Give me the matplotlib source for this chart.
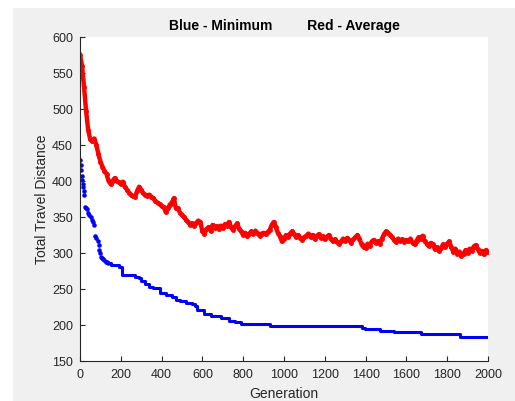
import matplotlib
matplotlib.use("Agg")
import matplotlib.pyplot as plt
from matplotlib.patches import Rectangle

# average distance, read every 10 generations (0..2000)
red_step = 10
red_avg = [
    575, 560, 530, 497, 471, 458, 455, 459, 450, 438,
    427, 420, 414, 410, 400, 396, 400, 404, 400, 398,
    396, 399, 392, 388, 384, 381, 379, 378, 386, 392,
    388, 383, 381, 379, 381, 378, 376, 372, 370, 368,
    365, 364, 357, 362, 367, 370, 376, 362, 362, 356,
    353, 350, 346, 343, 339, 341, 338, 342, 345, 343,
    330, 327, 333, 336, 331, 339, 335, 337, 333, 338,
    335, 340, 338, 343, 336, 332, 337, 341, 334, 330,
    325, 328, 323, 327, 330, 327, 331, 328, 324, 327,
    328, 326, 329, 332, 339, 343, 336, 328, 323, 316,
    320, 325, 322, 327, 330, 326, 322, 325, 321, 318,
    322, 324, 327, 322, 325, 320, 323, 326, 321, 323,
    319, 322, 325, 320, 316, 319, 315, 313, 316, 320,
    317, 321, 318, 314, 319, 322, 325, 320, 312, 308,
    307, 313, 310, 316, 318, 314, 316, 313, 320, 326,
    330, 328, 325, 322, 318, 315, 320, 317, 319, 315,
    318, 316, 320, 314, 312, 317, 322, 319, 324, 316,
    313, 310, 314, 312, 305, 308, 303, 307, 312, 309,
    313, 316, 308, 302, 306, 299, 302, 296, 299, 304,
    300, 306, 303, 309, 311, 305, 300, 303, 298, 304,
    301,
]
red_gen = list(range(0, red_step * len(red_avg), red_step))

# minimum distance: early scattered points
blue_early_gen = [0, 3, 5, 8, 10, 13, 16, 19, 21, 26, 30, 34, 40, 46, 52,
                  59, 64, 70, 75, 80, 87, 91, 95, 99, 103, 108, 113, 119,
                  125, 130, 136]
blue_early_val = [429, 422, 415, 407, 401, 396, 392, 386, 381, 364, 362,
                  361, 356, 353, 350, 346, 343, 339, 323, 321, 316, 311,
                  304, 300, 295, 293, 291, 290, 288, 287, 286]

# minimum distance: staircase after that
blue_step_gen = [136, 150, 160, 190, 208, 270, 290, 300, 320, 340, 360, 390,
                 420, 450, 470, 490, 520, 550, 565, 575, 610, 640, 690, 730,
                 760, 790, 900, 930, 1150, 1380, 1395, 1470, 1540, 1670, 1740,
                 1865, 2000]
blue_step_val = [286, 284, 283, 281, 269, 267, 265, 261, 257, 253, 251, 244,
                 242, 239, 235, 233, 231, 229, 226, 221, 215, 212, 210, 206,
                 204, 202, 201, 199, 198, 196, 194, 192, 190, 188, 187,
                 184, 183]

text_col = "#262626"

fig = plt.figure(figsize=(5.15, 4.01), dpi=100, facecolor="white")
fig.patches.append(Rectangle((13 / 515, 0), 1, 1 - 8 / 401,
                             transform=fig.transFigure,
                             facecolor="#f0f0f0", edgecolor="none", zorder=-1))

ax = fig.add_axes([80 / 515, 40 / 401, 408 / 515, 324 / 401])
ax.set_facecolor("white")

ax.plot(red_gen, red_avg, color="red", lw=3.2, marker=".", ms=5,
        solid_joinstyle="round")
ax.plot(blue_early_gen, blue_early_val, color="blue", ls="none",
        marker=".", ms=4.5)
ax.plot(blue_step_gen, blue_step_val, color="blue", lw=2.2,
        drawstyle="steps-post")

ax.set_xlim(0, 2000)
ax.set_ylim(150, 600)
ax.set_xticks(range(0, 2001, 200))
ax.set_yticks(range(150, 601, 50))

for side in ["top", "right"]:
    ax.spines[side].set_visible(False)
for side in ["left", "bottom"]:
    ax.spines[side].set_color(text_col)
    ax.spines[side].set_linewidth(0.8)

ax.tick_params(direction="in", length=3.5, width=0.8, color=text_col,
               labelcolor=text_col, labelsize=9)
ax.tick_params(axis="x", pad=6)
ax.tick_params(axis="y", pad=5)
for lab in ax.get_xticklabels() + ax.get_yticklabels():
    lab.set_family("Liberation Sans")

ax.set_xlabel("Generation", fontsize=10, color=text_col,
              family="Liberation Sans", labelpad=4)
ax.set_ylabel("Total Travel Distance", fontsize=10, color=text_col,
              family="Liberation Sans", labelpad=2)
ax.set_title("Blue - Minimum         Red - Average", fontsize=10,
             fontweight="bold", color="black", family="Liberation Sans",
             pad=5)

fig.savefig("out.png", dpi=100, facecolor=fig.get_facecolor())
